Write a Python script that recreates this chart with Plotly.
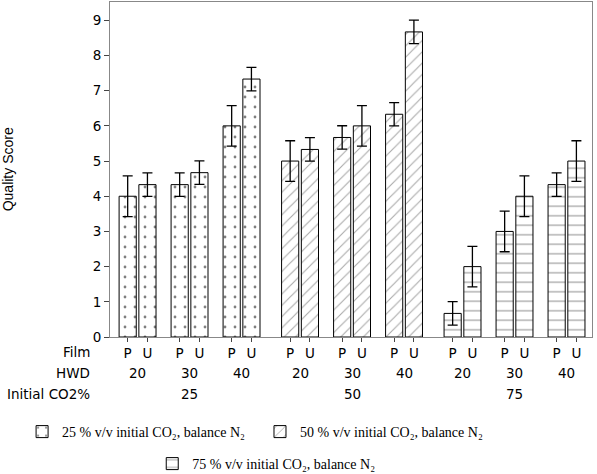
import plotly.graph_objects as go

# ---- data ----
co2_levels = [25, 50, 75]
hwd_levels = [20, 30, 40]
films = ["P", "U"]

scores_25 = [4.00, 4.33, 4.33, 4.67, 6.00, 7.33]
err_25 = [0.577, 0.333, 0.333, 0.333, 0.577, 0.333]
scores_50 = [5.00, 5.33, 5.67, 6.00, 6.33, 8.67]
err_50 = [0.577, 0.333, 0.333, 0.577, 0.333, 0.333]
scores_75 = [0.67, 2.00, 3.00, 4.00, 4.33, 5.00]
err_75 = [0.333, 0.577, 0.577, 0.577, 0.333, 0.577]

legend_names = [
    "25 % v/v initial CO₂, balance N₂",
    "50 % v/v initial CO₂, balance N₂",
    "75 % v/v initial CO₂, balance N₂",
]

# ---- layout helpers (positions derived from category indices) ----
CAT_GAP = 0.125
FILM_OFF = 0.19
BAR_W = 0.33


def pair_center(ci, hi):
    return ci * len(hwd_levels) + hi + ci * CAT_GAP


def bar_x(ci):
    xs = []
    for hi in range(len(hwd_levels)):
        for fi in range(len(films)):
            xs.append(pair_center(ci, hi) + (FILM_OFF if fi else -FILM_OFF))
    return xs


patterns = [
    dict(shape=".", size=10, solidity=0.06, fgcolor="#000000", bgcolor="white"),
    dict(shape="/", size=8, solidity=0.14, fgcolor="#555555", bgcolor="white"),
    dict(shape="-", size=9.5, solidity=0.12, fgcolor="#333333", bgcolor="white"),
]
series = [(scores_25, err_25), (scores_50, err_50), (scores_75, err_75)]
legend_ids = ["legend", "legend2", "legend3"]

fig = go.Figure()
for ci, (vals, errs) in enumerate(series):
    fig.add_trace(go.Bar(
        x=bar_x(ci), y=vals, width=BAR_W,
        name=legend_names[ci],
        legend=legend_ids[ci],
        marker=dict(color="white", pattern=patterns[ci],
                    line=dict(color="black", width=1)),
        error_y=dict(type="data", array=errs, visible=True,
                     color="black", thickness=1.3, width=5),
    ))

tickvals, ticktext = [], []
for ci in range(len(co2_levels)):
    xs = bar_x(ci)
    tickvals += xs
    ticktext += films * len(hwd_levels)

axis_font = dict(family="DejaVu Sans", size=13.5, color="black")
annotations = []
for ci, c in enumerate(co2_levels):
    for hi, h in enumerate(hwd_levels):
        annotations.append(dict(x=pair_center(ci, hi), y=0, xref="x", yref="paper",
                                yshift=-36, text=str(h), showarrow=False,
                                font=axis_font, yanchor="middle"))
    annotations.append(dict(x=pair_center(ci, 1), y=0, xref="x", yref="paper",
                            yshift=-57, text=str(c), showarrow=False,
                            font=axis_font, yanchor="middle"))
row_labels = [("Film", -15), ("HWD", -36), ("Initial CO2%", -57)]
for txt, ys in row_labels:
    annotations.append(dict(x=-0.037, y=0, xref="paper", yref="paper", yshift=ys,
                            text=txt, showarrow=False, font=axis_font,
                            xanchor="right", yanchor="middle"))
annotations.append(dict(x=-0.212, y=0.5, xref="paper", yref="paper",
                        text="Quality Score", textangle=-90, showarrow=False,
                        font=dict(family="Liberation Sans", size=14, color="black"),
                        xanchor="center", yanchor="middle"))

legend_font = dict(family="Liberation Serif", size=14, color="black")
leg_common = dict(xref="container", yref="container", xanchor="left", yanchor="middle",
                  font=legend_font, bgcolor="rgba(0,0,0,0)")
fig.update_layout(
    width=597, height=474,
    margin=dict(l=110, r=5, t=2, b=137, autoexpand=False),
    paper_bgcolor="white", plot_bgcolor="white",
    barmode="overlay",
    showlegend=True,
    xaxis=dict(range=[-0.53, 8.74], tickvals=tickvals, ticktext=ticktext,
               tickfont=axis_font, ticks="outside", ticklen=4, tickcolor="#444",
               showline=True, linecolor="#888", linewidth=1, mirror=True,
               showgrid=False, zeroline=False),
    yaxis=dict(range=[0, 9.52], tickvals=list(range(10)), tickfont=axis_font,
               ticks="outside", ticklen=5, tickcolor="#444",
               showline=True, linecolor="#888", linewidth=1, mirror=True,
               showgrid=False, zeroline=False),
    legend=dict(x=0.037, y=0.0886, **leg_common),
    legend2=dict(x=0.4355, y=0.0886, **leg_common),
    legend3=dict(x=0.255, y=0.0211, **leg_common),
    annotations=annotations,
)

fig.write_html("out.html", config={"displayModeBar": False},
               post_script="document.body.style.margin='0';")
